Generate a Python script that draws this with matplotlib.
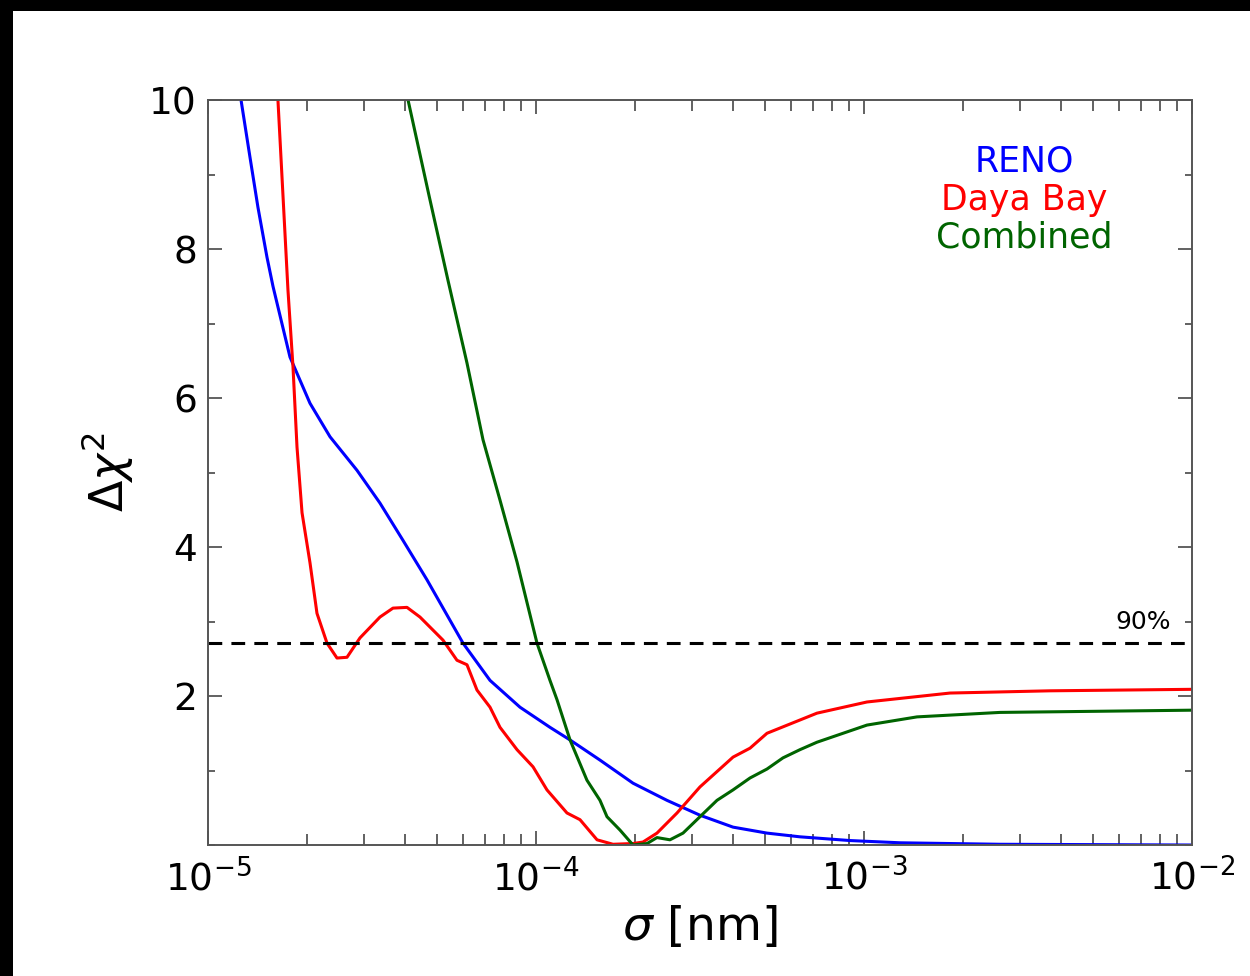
import numpy as np
import matplotlib
matplotlib.use("Agg")
import matplotlib.pyplot as plt
from matplotlib.patches import Rectangle
from matplotlib.ticker import LogLocator, MultipleLocator, NullFormatter

# delta chi^2 scans vs wave-packet width sigma [nm]
reno_sigma = [1.261e-5, 1.343e-5, 1.420e-5, 1.513e-5, 1.578e-5, 1.778e-5,
              2.046e-5, 2.355e-5, 2.846e-5, 3.344e-5, 3.930e-5, 4.652e-5,
              5.990e-5, 7.241e-5, 8.937e-5, 1.103e-4, 1.270e-4, 1.567e-4,
              1.976e-4, 2.507e-4, 3.162e-4, 3.988e-4, 5.061e-4, 6.380e-4,
              9.064e-4, 1.288e-3, 2.598e-3, 5.243e-3, 1.0e-2]
reno_chi2 = [10.0, 9.23, 8.56, 7.89, 7.50, 6.55,
             5.93, 5.48, 5.03, 4.59, 4.09, 3.56,
             2.71, 2.21, 1.85, 1.58, 1.41, 1.14,
             0.83, 0.60, 0.40, 0.24, 0.16, 0.11,
             0.06, 0.03, 0.01, 0.005, 0.0]

dyb_sigma = [1.634e-5, 1.753e-5, 1.816e-5, 1.868e-5, 1.935e-5, 2.046e-5,
             2.149e-5, 2.306e-5, 2.473e-5, 2.653e-5, 2.906e-5, 3.344e-5,
             3.664e-5, 4.043e-5, 4.429e-5, 5.206e-5, 5.742e-5, 6.160e-5,
             6.608e-5, 7.241e-5, 7.766e-5, 8.752e-5, 9.793e-5, 1.080e-4,
             1.243e-4, 1.362e-4, 1.535e-4, 1.717e-4, 1.976e-4, 2.119e-4,
             2.338e-4, 2.691e-4, 3.162e-4, 3.988e-4, 4.493e-4, 5.061e-4,
             7.188e-4, 1.021e-3, 1.829e-3, 3.690e-3, 1.0e-2]
dyb_chi2 = [10.0, 7.45, 6.42, 5.34, 4.46, 3.79,
            3.11, 2.71, 2.51, 2.52, 2.78, 3.06,
            3.18, 3.19, 3.06, 2.75, 2.48, 2.42,
            2.08, 1.85, 1.58, 1.28, 1.05, 0.74,
            0.43, 0.34, 0.07, 0.01, 0.02, 0.04,
            0.16, 0.43, 0.78, 1.18, 1.30, 1.50,
            1.77, 1.92, 2.04, 2.07, 2.09]

comb_sigma = [4.073e-5, 4.718e-5, 5.391e-5, 6.160e-5, 6.893e-5, 7.766e-5,
              8.752e-5, 1.007e-4, 1.103e-4, 1.159e-4, 1.270e-4, 1.430e-4,
              1.567e-4, 1.646e-4, 1.804e-4, 1.976e-4, 2.181e-4, 2.338e-4,
              2.561e-4, 2.807e-4, 3.162e-4, 3.563e-4, 3.988e-4, 4.493e-4,
              5.061e-4, 5.662e-4, 6.380e-4, 7.188e-4, 1.021e-3, 1.451e-3,
              2.598e-3, 1.0e-2]
comb_chi2 = [10.0, 8.72, 7.58, 6.47, 5.44, 4.63,
             3.80, 2.71, 2.21, 1.95, 1.41, 0.87,
             0.60, 0.38, 0.20, 0.0, 0.02, 0.10,
             0.07, 0.16, 0.38, 0.60, 0.74, 0.90,
             1.02, 1.17, 1.28, 1.38, 1.61, 1.72,
             1.78, 1.81]

cl90 = 2.71

fig = plt.figure(figsize=(12.5, 9.76), dpi=100)
ax = fig.add_axes([0.1664, 0.1342, 0.7872, 0.7633])

ax.plot(reno_sigma, reno_chi2, color='blue', lw=2.2)
ax.plot(dyb_sigma, dyb_chi2, color='red', lw=2.2)
ax.plot(comb_sigma, comb_chi2, color='darkgreen', lw=2.2)
ax.axhline(cl90, color='black', ls=(0, (4.5, 3)), lw=2.2)
ax.text(0.95, cl90 + 0.12, '90%', transform=ax.get_yaxis_transform(),
        ha='center', va='bottom', fontsize=18)

ax.set_xscale('log')
ax.set_xlim(1e-5, 1e-2)
ax.set_ylim(0, 10)
ax.set_yticks([2, 4, 6, 8, 10])
ax.yaxis.set_minor_locator(MultipleLocator(1))
ax.xaxis.set_minor_locator(LogLocator(base=10, subs=np.arange(2, 10)))
ax.xaxis.set_minor_formatter(NullFormatter())

ax.tick_params(which='both', direction='in', top=True, right=True,
               color='#555555', labelsize=27, width=1.3)
ax.tick_params(axis='x', which='major', length=10, pad=10)
ax.tick_params(axis='x', which='minor', length=8)
ax.tick_params(axis='y', which='major', length=10, pad=8)
ax.tick_params(axis='y', which='minor', length=5)
for s in ax.spines.values():
    s.set_color('#555555')
    s.set_linewidth(1.4)

ax.set_xlabel(r'$\sigma$ [nm]', fontsize=34, labelpad=4)
ax.set_ylabel(r'$\Delta\chi^2$', fontsize=33, labelpad=10)

ax.text(0.830, 0.917, 'RENO', color='blue', transform=ax.transAxes,
        ha='center', va='center', fontsize=25)
ax.text(0.830, 0.866, 'Daya Bay', color='red', transform=ax.transAxes,
        ha='center', va='center', fontsize=25)
ax.text(0.830, 0.816, 'Combined', color='darkgreen', transform=ax.transAxes,
        ha='center', va='center', fontsize=25)

# dark frame strips along the top and left edge
fig.add_artist(Rectangle((0, 1 - 11 / 976), 1, 11 / 976,
                         transform=fig.transFigure, color='black', lw=0))
fig.add_artist(Rectangle((0, 0), 13 / 1250, 1,
                         transform=fig.transFigure, color='black', lw=0))

fig.savefig('out.png', dpi=100)
